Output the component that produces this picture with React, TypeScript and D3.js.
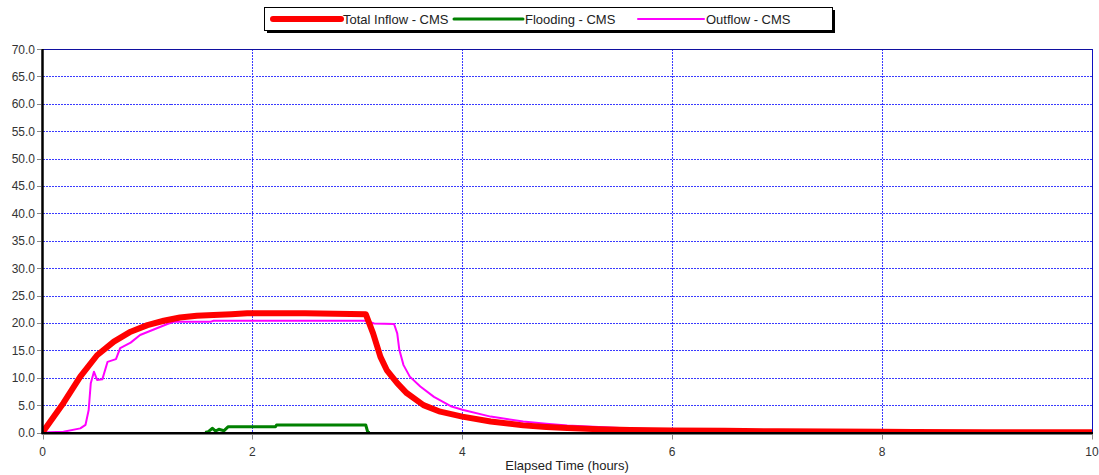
import React from "react";
import * as d3 from "d3";

const inflowT = [0, 0.2, 0.36, 0.52, 0.68, 0.84, 1.0, 1.155, 1.31, 1.47, 1.63, 1.8, 1.95, 2.5, 3.08, 3.15, 3.22, 3.28, 3.38, 3.47, 3.63, 3.79, 4.0, 4.27, 4.58, 4.8, 5.0, 5.3, 5.6, 6.0, 6.5, 7.0, 8.0, 8.3, 9.0, 10.0];
const inflowV = [0, 5.4, 10.2, 14.1, 16.6, 18.4, 19.6, 20.4, 21.0, 21.3, 21.45, 21.6, 21.75, 21.75, 21.6, 18.1, 13.8, 11.4, 9.0, 7.2, 5.0, 3.8, 2.9, 2.0, 1.3, 1.0, 0.8, 0.6, 0.45, 0.35, 0.3, 0.22, 0.12, 0.1, 0.05, 0.03];

const floodT = [1.55, 1.58, 1.62, 1.65, 1.68, 1.73, 1.77, 2.22, 2.23, 3.08, 3.1, 3.12];
const floodV = [0, 0.15, 0.77, 0.27, 0.58, 0.33, 1.06, 1.06, 1.37, 1.37, 0, 0];

const outflowT = [0, 0.2, 0.36, 0.41, 0.44, 0.46, 0.49, 0.52, 0.57, 0.62, 0.7, 0.74, 0.84, 0.93, 1.06, 1.19, 1.25, 1.6, 1.63, 3.08, 3.16, 3.35, 3.38, 3.4, 3.44, 3.5, 3.6, 3.73, 3.89, 4.01, 4.27, 4.58, 4.8, 5.0, 5.3, 5.6, 6.0, 6.5, 7.0, 8.0, 9.0, 10.0];
const outflowV = [0, 0.15, 0.75, 1.4, 4.1, 9.0, 11.1, 9.6, 9.7, 12.9, 13.4, 15.4, 16.4, 17.8, 18.8, 19.8, 20.2, 20.2, 20.4, 20.4, 19.9, 19.8, 18.1, 15.1, 12.3, 10.2, 8.4, 6.5, 4.8, 4.1, 2.9, 2.0, 1.6, 1.3, 1.0, 0.75, 0.55, 0.45, 0.38, 0.3, 0.2, 0.15];

const xTicks = [0, 2, 4, 6, 8, 10];
const yTicks = [0, 5, 10, 15, 20, 25, 30, 35, 40, 45, 50, 55, 60, 65, 70];

const seriesNames = ["Total Inflow - CMS", "Flooding - CMS", "Outflow - CMS"];
const seriesColors = ["#ff0000", "#008000", "#ff00ff"];
const seriesWidths = [6, 3, 2];

const W = 1099;
const H = 475;
const L = 42.5;
const R = 1092;
const T = 49;
const B = 432.5;

export default function App() {
  const x = d3.scaleLinear().domain([0, 10]).range([L, R]);
  const y = d3.scaleLinear().domain([0, 70]).range([B, T]);
  const line = d3
    .line<[number, number]>()
    .x((d) => x(d[0]))
    .y((d) => y(d[1]));
  const zip = (t: number[], v: number[]) => t.map((ti, i) => [ti, v[i]] as [number, number]);
  const series = [zip(inflowT, inflowV), zip(floodT, floodV), zip(outflowT, outflowV)];
  const drawOrder = [2, 1, 0];
  const font = "'Liberation Sans', Arial, sans-serif";
  const legendLines = [
    { x1: 273, x2: 341, tx: 343 },
    { x1: 454, x2: 523, tx: 525 },
    { x1: 638, x2: 704, tx: 706 },
  ];
  const gridColor = "#3a3aff";
  return (
    <svg
      width={W}
      height={H}
      style={{ position: "absolute", left: 0, top: 0, background: "#fff" }}
      fontFamily={font}
    >
      <defs>
        <clipPath id="plotclip">
          <rect x={L} y={T - 3} width={R - L} height={B - T + 3} />
        </clipPath>
      </defs>
      <rect x={0} y={0} width={W} height={H} fill="#fff" />
      {/* horizontal grid */}
      {yTicks.filter((v) => v > 0 && v < 70).map((v) => (
        <line key={"hg" + v} x1={L} x2={R} y1={Math.round(y(v)) + 0.5} y2={Math.round(y(v)) + 0.5} stroke={gridColor} strokeWidth={1} strokeDasharray="2,1" shapeRendering="crispEdges" />
      ))}
      {/* vertical grid */}
      {xTicks.filter((v) => v > 0 && v < 10).map((v) => (
        <line key={"vg" + v} x1={Math.round(x(v)) + 0.5} x2={Math.round(x(v)) + 0.5} y1={T} y2={B} stroke={gridColor} strokeWidth={1} strokeDasharray="2,1" shapeRendering="crispEdges" />
      ))}
      {/* top & right frame */}
      <line x1={L} x2={R} y1={T + 0.5} y2={T + 0.5} stroke="#1010a0" strokeWidth={1} shapeRendering="crispEdges" />
      <line x1={R + 0.5} x2={R + 0.5} y1={T} y2={B} stroke="#1010c0" strokeWidth={1} shapeRendering="crispEdges" />
      {/* series */}
      <g clipPath="url(#plotclip)">
        {drawOrder.map((i) => (
          <path key={"s" + i} d={line(series[i]) || ""} fill="none" stroke={seriesColors[i]} strokeWidth={seriesWidths[i]} strokeLinejoin="round" />
        ))}
      </g>
      {/* axes */}
      <line x1={L} x2={L} y1={T} y2={B + 1.5} stroke="#000" strokeWidth={2.5} />
      <line x1={L - 1} x2={R + 1} y1={B + 0.75} y2={B + 0.75} stroke="#000" strokeWidth={2.5} />
      {/* y ticks */}
      {yTicks.map((v) => (
        <g key={"yt" + v}>
          <line x1={37} x2={41} y1={Math.round(y(v)) + 0.5} y2={Math.round(y(v)) + 0.5} stroke="#888" strokeWidth={1} />
          <text x={35} y={y(v) + 4.5} textAnchor="end" fontSize={12} fill="#333">
            {v.toFixed(1)}
          </text>
        </g>
      ))}
      {/* x ticks */}
      {xTicks.map((v) => (
        <g key={"xt" + v}>
          <line x1={Math.round(x(v)) + 0.5} x2={Math.round(x(v)) + 0.5} y1={B + 2} y2={B + 7} stroke="#888" strokeWidth={1} />
          <text x={x(v)} y={B + 23} textAnchor="middle" fontSize={12} fill="#333">
            {v}
          </text>
        </g>
      ))}
      <text x={567} y={470} textAnchor="middle" fontSize={13} fill="#222">
        Elapsed Time (hours)
      </text>
      {/* legend */}
      <rect x={267} y={10} width={568} height={23} fill="#000" />
      <rect x={264.5} y={7.5} width={568} height={23} fill="#fff" stroke="#000" strokeWidth={1} />
      {seriesNames.map((n, i) => (
        <g key={"lg" + i}>
          <line x1={legendLines[i].x1} x2={legendLines[i].x2} y1={19} y2={19} stroke={seriesColors[i]} strokeWidth={seriesWidths[i]} strokeLinecap="round" />
          <text x={legendLines[i].tx} y={23.5} fontSize={13} fill="#222">
            {n}
          </text>
        </g>
      ))}
    </svg>
  );
}
